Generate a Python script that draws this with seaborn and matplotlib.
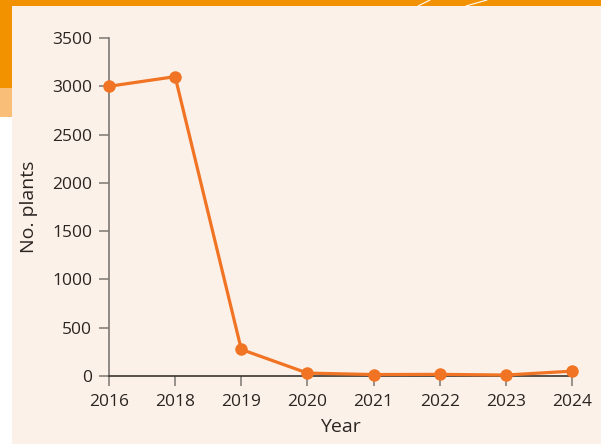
import matplotlib
matplotlib.use("Agg")
import matplotlib.pyplot as plt
from matplotlib.patches import Rectangle
from matplotlib.lines import Line2D
import seaborn as sns
import pandas as pd

# Plant counts per survey year
years = ["2016", "2018", "2019", "2020", "2021", "2022", "2023", "2024"]
plants = [3000, 3100, 275, 30, 15, 17, 10, 50]
y_ticks = [0, 500, 1000, 1500, 2000, 2500, 3000, 3500]

CREAM = "#FCF1E8"
ORANGE = "#F39200"
LIGHT_ORANGE = "#F9BE78"
LINE = "#F07424"

sns.set_theme(style="white")
plt.rcParams["font.family"] = ["Open Sans", "DejaVu Sans"]

W, H = 601, 444
fig = plt.figure(figsize=(W / 100, H / 100), dpi=100, facecolor=CREAM)

def px_rect(x0, y0, x1, y1, color):
    fig.patches.append(Rectangle((x0 / W, 1 - y1 / H), (x1 - x0) / W, (y1 - y0) / H,
                                 transform=fig.transFigure, facecolor=color,
                                 edgecolor="none", zorder=0))

# page frame: orange header band and side tab
px_rect(0, 0, W, 6, ORANGE)
px_rect(0, 0, 12, 88, ORANGE)
px_rect(0, 88, 12, 117, LIGHT_ORANGE)
px_rect(0, 117, 12, H, "white")
for xa, xb in [(418, 430), (466, 487)]:
    fig.add_artist(Line2D([xa / W, xb / W], [1 - 6 / H, 1.0], transform=fig.transFigure,
                          color="white", lw=0.8, zorder=1))

ax = fig.add_axes([109 / W, 1 - 376 / H, (572 - 109) / W, (376 - 38) / H])
ax.set_facecolor("none")

df = pd.DataFrame({"Year": years, "No. plants": plants})
sns.lineplot(data=df, x="Year", y="No. plants", ax=ax, color=LINE, lw=2.3,
             marker="o", markersize=9, markeredgewidth=0, clip_on=False, zorder=5)

ax.set_xlim(0, len(years) - 1)
ax.set_ylim(0, 3500)
ax.set_yticks(y_ticks)
ax.set_yticklabels([str(v) for v in y_ticks])

for side in ("top", "right"):
    ax.spines[side].set_visible(False)
ax.spines["left"].set_color("#7b7773")
ax.spines["left"].set_linewidth(1.2)
ax.spines["bottom"].set_color("#3a3531")
ax.spines["bottom"].set_linewidth(1.2)

ax.tick_params(axis="both", which="major", bottom=True, left=True, length=7,
               width=1.1, color="#7b7773", labelsize=12.5, labelcolor="#2b2522")
ax.tick_params(axis="y", pad=5)
ax.tick_params(axis="x", pad=6)
ax.yaxis.get_major_ticks()[0].tick1line.set_color("#3a3531")

ax.set_xlabel("Year", fontsize=14, color="#2b2522", labelpad=6)
ax.set_ylabel("No. plants", fontsize=14, color="#2b2522", labelpad=10)

fig.savefig("out.png", dpi=100, facecolor=CREAM)
